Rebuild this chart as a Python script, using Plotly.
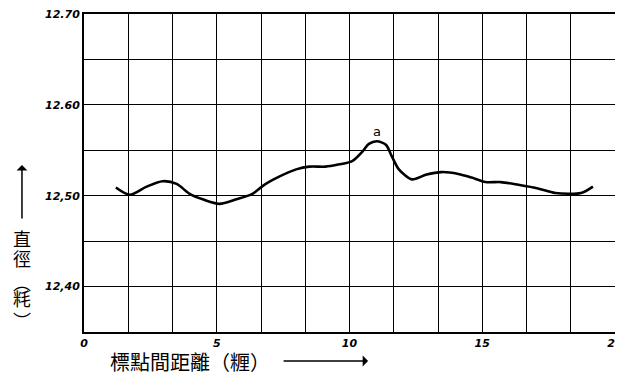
import plotly.graph_objects as go

# Curve (distance between marks in cm, diameter in mm)
dist = [1.2, 1.73, 2.36, 2.96, 3.49, 3.98, 4.47, 5.1, 5.74, 6.34, 6.79, 7.35, 7.99,
        8.48, 9.1, 9.53, 10.1, 10.47, 10.73, 11.03, 11.37, 11.6, 11.86, 12.35, 12.87,
        13.47, 14.1, 14.6, 15.12, 15.7, 16.36, 17.1, 17.75, 18.72, 19.17]
diam = [12.509, 12.501, 12.510, 12.516, 12.513, 12.502, 12.496, 12.491, 12.496, 12.502,
        12.512, 12.521, 12.529, 12.532, 12.532, 12.534, 12.538, 12.548, 12.557, 12.560,
        12.556, 12.543, 12.529, 12.518, 12.523, 12.526, 12.524, 12.520, 12.515, 12.515,
        12.512, 12.508, 12.503, 12.503, 12.510]

x_grid = [i * 20 / 12 for i in range(13)]
x_labels = {0: "0", 3: "5", 6: "10", 9: "15", 12: "20"}
x_text = [x_labels.get(i, "") for i in range(13)]

y_grid = [12.35, 12.40, 12.45, 12.50, 12.55, 12.60, 12.65, 12.70]
y_text = ["", "12,40", "", "12,50", "", "12.60", "", "12.70"]

peak_label = "a"
peak_x, peak_y = 11.03, 12.571

y_title_chars = ["直", "徑", "︵", "粍", "︶"]
y_title_pos = [0.2956, 0.2327, 0.1572, 0.1069, 0.0377]
x_title = "標點間距離（糎）"

fig = go.Figure()
fig.add_trace(go.Scatter(x=dist, y=diam, mode="lines",
                         line=dict(color="black", width=2.6, shape="spline", smoothing=0.8),
                         hoverinfo="skip", showlegend=False))

tick_font = dict(family="DejaVu Sans", size=11, color="black", weight="bold", style="italic")
common = dict(showgrid=True, gridcolor="black", gridwidth=1.2, zeroline=False,
              showline=True, linecolor="black", linewidth=2, mirror=True,
              ticks="", tickfont=tick_font, automargin=False, ticklabeloverflow="allow")
fig.update_xaxes(range=[0, 20], tickmode="array", tickvals=x_grid, ticktext=x_text, **common)
fig.update_yaxes(range=[12.35, 12.70], tickmode="array", tickvals=y_grid, ticktext=y_text,
                 **common)

cjk = "Noto Sans CJK TC"
fig.add_annotation(x=peak_x, y=peak_y, text=peak_label, showarrow=False,
                   font=dict(family="DejaVu Sans", size=13, color="black"))
# Y title, stacked vertically
for ch, yp in zip(y_title_chars, y_title_pos):
    fig.add_annotation(xref="paper", yref="paper", x=-0.1168, y=yp, text=ch,
                       xanchor="center", yanchor="middle",
                       showarrow=False, font=dict(family=cjk, size=18, color="black"))
fig.add_annotation(xref="paper", yref="paper", x=-0.1168, y=0.525, text="",
                   showarrow=True, arrowhead=1, arrowsize=1.2, arrowwidth=1.5,
                   axref="pixel", ayref="pixel", ax=0, ay=55, arrowcolor="black")
# X title
fig.add_annotation(xref="paper", yref="paper", x=0.1996, y=-0.0912,
                   text=x_title, showarrow=False, xanchor="center", yanchor="middle",
                   font=dict(family=cjk, size=20, color="black"))
fig.add_annotation(xref="paper", yref="paper", x=0.535, y=-0.0912, text="",
                   showarrow=True, arrowhead=1, arrowsize=1.2, arrowwidth=1.5,
                   axref="pixel", ayref="pixel", ax=-86, ay=0, arrowcolor="black")

fig.update_layout(width=607, height=368, margin=dict(l=76, r=0, t=6, b=44),
                  paper_bgcolor="white", plot_bgcolor="white")
fig.write_html("out.html")
